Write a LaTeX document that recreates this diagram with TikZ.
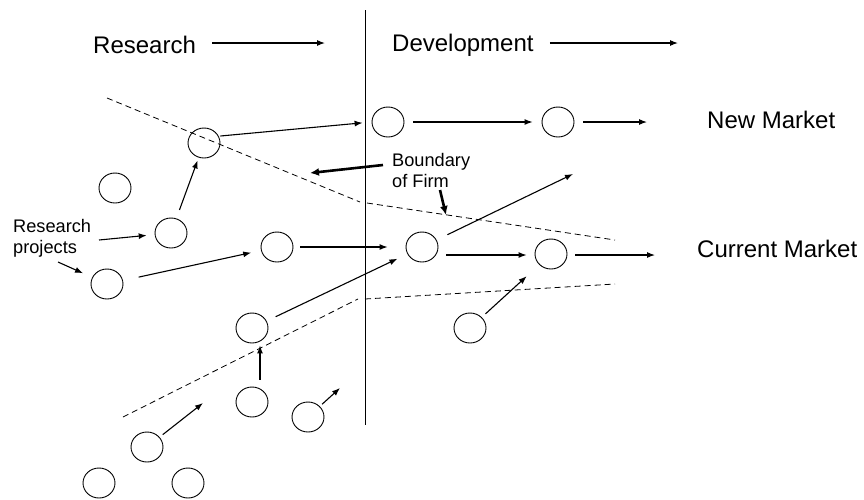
\documentclass[tikz,border=0pt]{standalone}
\usepackage{fontspec}
\setmainfont{Liberation Sans}
\usetikzlibrary{shapes.geometric,arrows.meta}
\tikzset{
  proj/.style={draw, ellipse, minimum width=32pt, minimum height=30pt, inner sep=0pt, line width=0.9pt},
  arr/.style={line width=1.1pt, -{Latex[length=8pt,width=6pt]}},
  thickarr/.style={line width=2.6pt, -{Latex[length=9pt,width=8pt]}},
  bound/.style={dashed, dash pattern=on 6pt off 4pt, line width=0.8pt},
  big/.style={font=\fontsize{24}{28}\selectfont, inner sep=0pt},
  small/.style={font=\fontsize{18.2}{21}\selectfont, inner sep=0pt, align=left}
}
\begin{document}
\begin{tikzpicture}[x=1pt,y=-1pt]
\useasboundingbox (0,0) rectangle (864,499);
% headers
\node[big, anchor=west] (res) at (93,45) {Research};
\node[big, anchor=west] (dev) at (392,45) {Development};
\coordinate (resend) at (325,43);
\coordinate (devend) at (678,43);
\draw[arr] ([xshift=16pt,yshift=2pt]res.east) -- (resend);
\draw[arr] ([xshift=16pt,yshift=2pt]dev.east) -- (devend);
% market labels
\node[big, anchor=west] (nm) at (707,120) {New Market};
\node[big, anchor=west] (cm) at (697,249) {Current Market};
% vertical divider
\draw[line width=0.9pt] (365,10) -- (365,425);
% boundary of firm (dashed)
\draw[bound] (107,98) -- (360,202);
\draw[bound] (367,203) -- (615,240);
\draw[bound] (123,417) -- (358,299);
\draw[bound] (365,299) -- (615,284);
% circles
\node[proj] (c204) at (204,143) {};
\node[proj] (c388) at (388,122) {};
\node[proj] (c558) at (558,122) {};
\node[proj] (c115) at (115,188) {};
\node[proj] (c171) at (171,233) {};
\node[proj] (c277) at (277,247) {};
\node[proj] (c107) at (107,284) {};
\node[proj] (c422) at (422,247) {};
\node[proj] (c551) at (551,254) {};
\node[proj] (c470) at (470,328) {};
\node[proj] (c252a) at (252,328) {};
\node[proj] (c252b) at (252,402) {};
\node[proj] (c308) at (308,417) {};
\node[proj] (c147) at (147,447) {};
\node[proj] (c99) at (99,483) {};
\node[proj] (c188) at (188,483) {};
% labels
\node[small, anchor=west] (rp) at (13,238) {Research\\projects};
\node[small, anchor=west] (bof) at (392,170) {Boundary\\of Firm};
% free-end coordinates
\coordinate (rpa) at (99,240);
\coordinate (rpb) at (58,262);
\coordinate (nmend) at (647,122);
\coordinate (cmend) at (655,255);
\coordinate (upend) at (573,174);
\coordinate (e308) at (340,388);
\coordinate (e147) at (203,403);
\coordinate (bofa) at (383,165);
\coordinate (bofa2) at (310,173);
\coordinate (bofb) at (440,190);
\coordinate (bofb2) at (446,215);
% arrows
\draw[arr, shorten <=9pt, shorten >=3pt] (c171) -- (c204);
\draw[arr, shorten >=9pt] ([yshift=7pt]c204.east) -- (c388.west);
\draw[arr] ([xshift=9pt]c388.east) -- ([xshift=-9pt]c558.west);
\draw[arr] ([xshift=9pt]c558.east) -- (nmend);
\draw[arr, shorten >=8pt] (rpa) -- (c171);
\draw[arr, shorten >=10pt] (rpb) -- (c107);
\draw[arr, shorten <=16pt, shorten >=10pt] (c107) -- (c277);
\draw[arr] ([xshift=7pt]c277.east) -- ([xshift=-18pt]c422.west);
\draw[arr, shorten <=10pt, shorten >=11pt] (c252a) -- (c422);
\draw[arr] ([xshift=8pt,yshift=7pt]c252b.north) -- ([xshift=8pt,yshift=-2pt]c252a.south);
\draw[arr, shorten <=3pt] (c308) -- (e308);
\draw[arr, shorten <=4pt] (c147) -- (e147);
\draw[arr, shorten <=5pt, shorten >=17pt] (c470) -- (c551);
\draw[arr] ([xshift=8pt,yshift=-8pt]c422.east) -- ([xshift=-8pt,yshift=-1pt]c551.west);
\draw[arr] ([xshift=8pt,yshift=-1pt]c551.east) -- (cmend);
\draw[arr, shorten <=12pt] (c422) -- (upend);
\draw[thickarr] (bofa) -- (bofa2);
\draw[thickarr] (bofb) -- (bofb2);
\end{tikzpicture}
\end{document}
